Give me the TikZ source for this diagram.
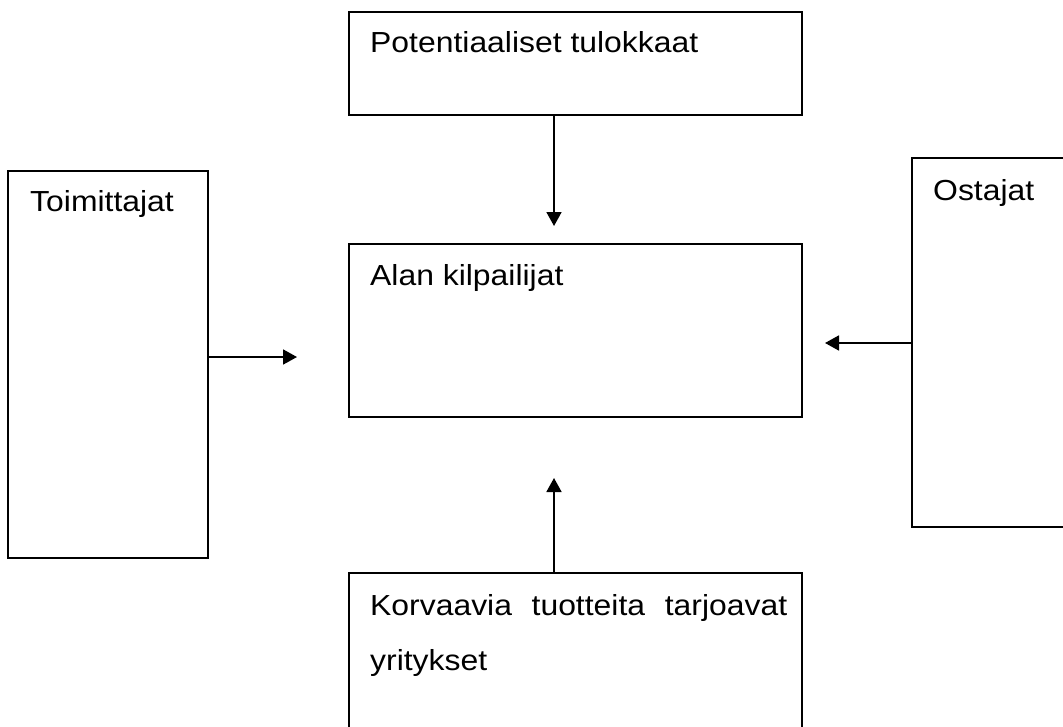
\documentclass[tikz,border=0pt]{standalone}
\usepackage{fontspec}
\setmainfont{Liberation Sans}[FakeStretch=1.1]
\usetikzlibrary{arrows.meta}
\tikzset{
  box/.style={draw, line width=1.3pt, anchor=north west, inner sep=0pt, outer sep=0pt},
  lbl/.style={anchor=base west, inner sep=0pt, font=\fontsize{29}{55}\selectfont},
  conn/.style={line width=1.8pt, -{Triangle[length=14pt,width=15pt]}}
}
\begin{document}
\begin{tikzpicture}[x=1pt, y=-1pt]
\useasboundingbox (0,0) rectangle (1063,726);
\clip (0,0) rectangle (1063,726);
% laatikot
\node[box, minimum width=453pt, minimum height=103pt] (tulokkaat) at (349,12) {};
\node[box, minimum width=200pt, minimum height=387pt] (toimittajat) at (8,171) {};
\node[box, minimum width=453pt, minimum height=173pt] (kilpailijat) at (349,244) {};
\node[box, minimum width=200pt, minimum height=369pt] (ostajat) at (912,158) {};
\node[box, minimum width=453pt, minimum height=200pt] (korvaavat) at (349,573) {};
% tekstit
\node[lbl] (tulokkaatlbl) at (370,52) {Potentiaaliset tulokkaat};
\node[lbl] (toimittajatlbl) at (30,211) {Toimittajat};
\node[lbl] (kilpailijatlbl) at (370,285) {Alan kilpailijat};
\node[lbl] (ostajatlbl) at (933,200) {Ostajat};
\node[lbl, text width=417pt, align=left] (korvaavatlbl) at (370,615)
  {Korvaavia\hfill tuotteita\hfill tarjoavat\\yritykset};
% nuolet
\coordinate (ylapaa) at (554,226);
\coordinate (alapaa) at (554,478);
\coordinate (vasenpaa) at (297,357);
\coordinate (oikeapaa) at (825,343);
\draw[conn] (tulokkaat.south -| ylapaa) -- (ylapaa);
\draw[conn] (korvaavat.north -| alapaa) -- (alapaa);
\draw[conn] (toimittajat.east |- vasenpaa) -- (vasenpaa);
\draw[conn] (ostajat.west |- oikeapaa) -- (oikeapaa);
\end{tikzpicture}
\end{document}
